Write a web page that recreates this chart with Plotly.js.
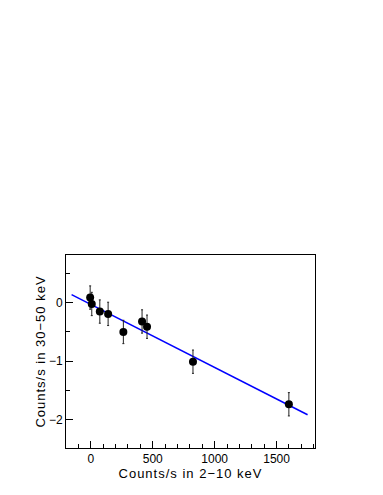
<!DOCTYPE html>
<html>
<head>
<meta charset="utf-8">
<script src="https://cdn.plot.ly/plotly-3.0.1.min.js"></script>
<style>
  html, body { margin: 0; padding: 0; background: #fff; }
  #plot { width: 383px; height: 495px; }
  .xtitle, .ytitle { letter-spacing: 1px; }
</style>
</head>
<body>
<div id="plot"></div>
<script>
// puntos medidos: tasa 2-10 keV vs tasa 30-50 keV
const rate2to10 = [-5, 8, 73, 140, 263, 414, 454, 825, 1599];
const rate30to50 = [0.09, -0.02, -0.15, -0.19, -0.50, -0.32, -0.41, -1.01, -1.74];
const errY = [0.2, 0.2, 0.2, 0.2, 0.2, 0.2, 0.2, 0.2, 0.2];

// recta de ajuste (extremos)
const fitX = [-155, 1750];
const fitY = [0.14, -1.92];

const fuente = "Liberation Sans, Arial, sans-serif";

const ejeComun = {
  showgrid: false, zeroline: false,
  showline: true, linecolor: "#000", linewidth: 1, mirror: true,
  ticks: "inside", ticklen: 7, tickcolor: "#000",
  tickfont: { family: fuente, size: 12, color: "#000" },
  minor: { ticks: "inside", ticklen: 4, tickcolor: "#000" },
};

Plotly.newPlot("plot", [
  {
    type: "scatter", mode: "lines",
    x: fitX, y: fitY,
    line: { color: "#0000ff", width: 1.5 },
    hoverinfo: "skip",
  },
  {
    type: "scatter", mode: "markers",
    x: rate2to10, y: rate30to50,
    error_y: { type: "data", array: errY, visible: true, color: "#222", thickness: 1, width: 1 },
    marker: { color: "#000", size: 8 },
  },
], {
  width: 383, height: 495,
  showlegend: false,
  paper_bgcolor: "#fff", plot_bgcolor: "#fff",
  margin: { l: 66, r: 68, t: 255, b: 47 },
  xaxis: {
    ...ejeComun,
    range: [-200, 1810],
    tickvals: [0, 500, 1000, 1500],
    minor: { ...ejeComun.minor, dtick: 100, tick0: 0 },
    title: { text: "Counts/s in 2\u221210 keV", font: { family: fuente, size: 13, color: "#000" }, standoff: 0 },
  },
  yaxis: {
    ...ejeComun,
    range: [-2.49, 0.82],
    tickvals: [0, -1, -2],
    ticktext: ["0", "\u22121", "\u22122"],
    minor: { ...ejeComun.minor, tickvals: [0.5, -0.5, -1.5] },
    // espacios finales para bajar un poco el titulo, como en el original
    title: { text: "Counts/s in 30\u221250 keV\u00a0\u00a0\u00a0\u00a0", font: { family: fuente, size: 13, color: "#000" }, standoff: 0 },
  },
}, { displayModeBar: false, staticPlot: true });
</script>
</body>
</html>
